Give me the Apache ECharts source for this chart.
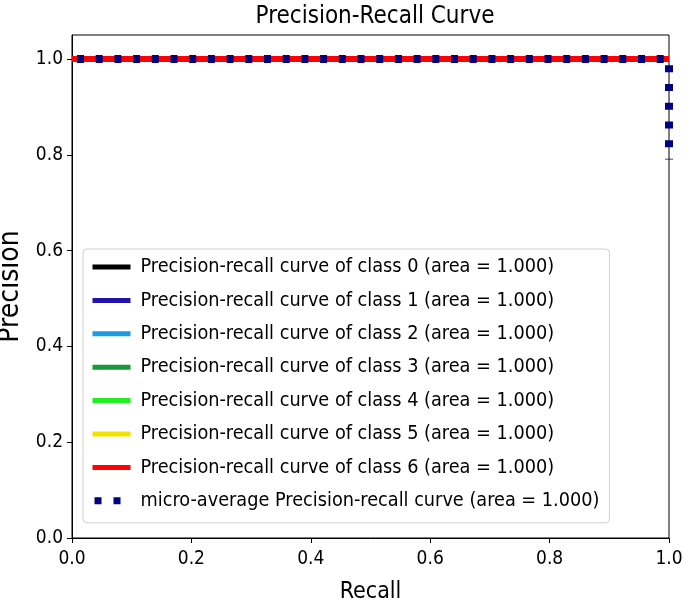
<!DOCTYPE html>
<html>
<head>
<meta charset="utf-8">
<script src="https://cdn.jsdelivr.net/npm/echarts@6/dist/echarts.min.js"></script>
<style>html,body{margin:0;padding:0;background:#fff}#c{width:685px;height:606px}</style>
</head>
<body>
<div id="c"></div>
<script>
const classLabels = ['0', '1', '2', '3', '4', '5', '6'];
const classAreas = [1.000, 1.000, 1.000, 1.000, 1.000, 1.000, 1.000];
const classColors = ['#000000', '#2414a6', '#1a9be0', '#179a3c', '#22ee22', '#f2e200', '#ff0000'];
const classRecall = [0.0, 1.0];
const classPrecision = [1.0, 1.0];
const microRecall = [0.0, 1.0, 1.0];
const microPrecision = [1.0, 1.0, 0.79];
const microArea = 1.000;
const xTickValues = [0.0, 0.2, 0.4, 0.6, 0.8, 1.0];
const yTickValues = [0.0, 0.2, 0.4, 0.6, 0.8, 1.0];

const FONT = '"DejaVu Sans Condensed", "DejaVu Sans", sans-serif';
const zip = (a, b) => a.map((v, i) => [v, b[i]]);

const series = [];
const legendData = [];
classLabels.forEach((c, i) => {
  const name = 'Precision-recall curve of class ' + c + ' (area = ' + classAreas[i].toFixed(3) + ')';
  series.push({
    name, type: 'line', data: zip(classRecall, classPrecision), symbol: 'none', clip: false,
    lineStyle: { color: classColors[i], width: 6 }, itemStyle: { color: classColors[i] }
  });
  legendData.push({ name, lineStyle: { width: 5 }, itemStyle: { opacity: 0 } });
});
const microName = 'micro-average Precision-recall curve (area = ' + microArea.toFixed(3) + ')';
series.push({
  name: microName, type: 'line', data: zip(microRecall, microPrecision), symbol: 'none', clip: false,
  lineStyle: { color: '#000080', width: 8, type: [7, 11.7], dashOffset: 13.7, cap: 'butt' },
  itemStyle: { color: '#000080' }
});
legendData.push({ name: microName, lineStyle: { width: 7, type: [7, 12], dashOffset: 17 }, itemStyle: { opacity: 0 } });

const chart = echarts.init(document.getElementById('c'), null, { renderer: 'canvas' });
chart.setOption({
  animation: false,
  backgroundColor: '#ffffff',
  title: {
    text: 'Precision-Recall Curve', left: 370, top: 0, textAlign: 'center',
    textStyle: { fontFamily: FONT, fontSize: 24, fontWeight: 'normal', color: '#000' }
  },
  grid: { left: 72, right: 16, top: 35, bottom: 68, show: true, borderColor: '#000', borderWidth: 1,
    backgroundColor: 'transparent', containLabel: false, outerBoundsMode: 'none' },
  xAxis: {
    type: 'value', min: 0, max: 1, interval: 0.2,
    name: 'Recall', nameLocation: 'middle', nameGap: 43,
    nameTextStyle: { fontFamily: FONT, fontSize: 23, color: '#000' },
    axisLine: { show: true, onZero: false, lineStyle: { color: '#000', width: 1 } },
    axisTick: { show: true, inside: false, length: 5, lineStyle: { color: '#000' } },
    axisLabel: { margin: 12, fontFamily: FONT, fontSize: 19, color: '#000',
      formatter: v => xTickValues.some(t => Math.abs(t - v) < 1e-9) ? v.toFixed(1) : '' },
    splitLine: { show: false }
  },
  yAxis: {
    type: 'value', min: 0, max: 1.05, interval: 0.2,
    name: 'Precision', nameLocation: 'middle', nameGap: 46,
    nameTextStyle: { fontFamily: FONT, fontSize: 28, color: '#000' },
    axisLine: { show: true, onZero: false, lineStyle: { color: '#000', width: 1 } },
    axisTick: { show: true, inside: false, length: 5, lineStyle: { color: '#000' } },
    axisLabel: { margin: 9, fontFamily: FONT, fontSize: 19, color: '#000', showMaxLabel: false,
      formatter: v => yTickValues.some(t => Math.abs(t - v) < 1e-9) ? v.toFixed(1) : '' },
    splitLine: { show: false }
  },
  legend: {
    orient: 'vertical', left: 83, top: 249,
    data: legendData,
    itemWidth: 38, itemHeight: 14, itemGap: 11.4,
    padding: [7, 10, 11, 6],
    backgroundColor: 'rgba(255,255,255,0.85)', borderColor: '#d0d0d0', borderWidth: 1, borderRadius: 4,
    textStyle: { fontFamily: FONT, fontSize: 19.7, color: '#000', lineHeight: 22, padding: [0, 0, 0, 5] },
    selectedMode: false
  },
  series
});
</script>
</body>
</html>
